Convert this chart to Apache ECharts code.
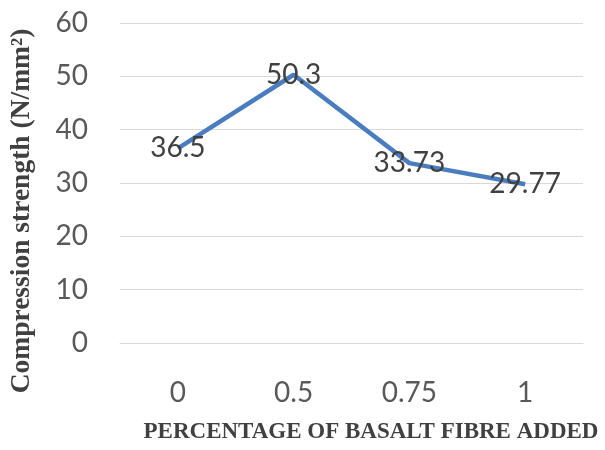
<!DOCTYPE html>
<html>
<head>
<meta charset="utf-8">
<script src="https://cdn.jsdelivr.net/npm/echarts@6/dist/echarts.min.js"></script>
<style>html,body{margin:0;padding:0;background:#fff}#c{width:605px;height:450px}</style>
</head>
<body>
<div id="c"></div>
<script>
const categories = ['0', '0.5', '0.75', '1'];
const strength = [36.5, 50.3, 33.73, 29.77];
const yTitle = 'Compression strength (N/mm²)';
const xTitle = 'PERCENTAGE OF BASALT FIBRE ADDED';

const chart = echarts.init(document.getElementById('c'), null, {renderer: 'canvas'});
chart.setOption({
  animation: false,
  backgroundColor: '#ffffff',
  grid: {left: 120, right: 22, top: 23, bottom: 107},
  xAxis: {
    type: 'category',
    data: categories,
    boundaryGap: true,
    axisLine: {show: true, lineStyle: {color: '#d9d9d9', width: 1}},
    axisTick: {show: false},
    axisLabel: {margin: 36, color: '#595959', fontFamily: 'Lato', fontSize: 28}
  },
  yAxis: {
    type: 'value',
    min: 0, max: 60, interval: 10,
    axisLine: {show: false},
    axisTick: {show: false},
    splitLine: {lineStyle: {color: '#d9d9d9', width: 1}},
    axisLabel: {margin: 32, color: '#595959', fontFamily: 'Lato', fontSize: 28}
  },
  graphic: [
    {type: 'text', x: 22, y: 211, rotation: Math.PI / 2,
     style: {text: yTitle, textAlign: 'center', textVerticalAlign: 'middle',
             font: 'bold 27.5px "Liberation Serif"', fill: '#404040'}},
    {type: 'text', x: 371, y: 432,
     style: {text: xTitle, textAlign: 'center', textVerticalAlign: 'middle',
             font: 'bold 23px "Liberation Serif"', fill: '#404040'}}
  ],
  series: [{
    type: 'line',
    data: strength,
    showSymbol: true,
    symbol: 'circle',
    symbolSize: 0,
    lineStyle: {color: '#4a7dbf', width: 4.5},
    itemStyle: {color: '#4a7dbf'},
    label: {show: true, position: 'inside', color: '#404040', fontFamily: 'Lato', fontSize: 28}
  }]
});
</script>
</body>
</html>
